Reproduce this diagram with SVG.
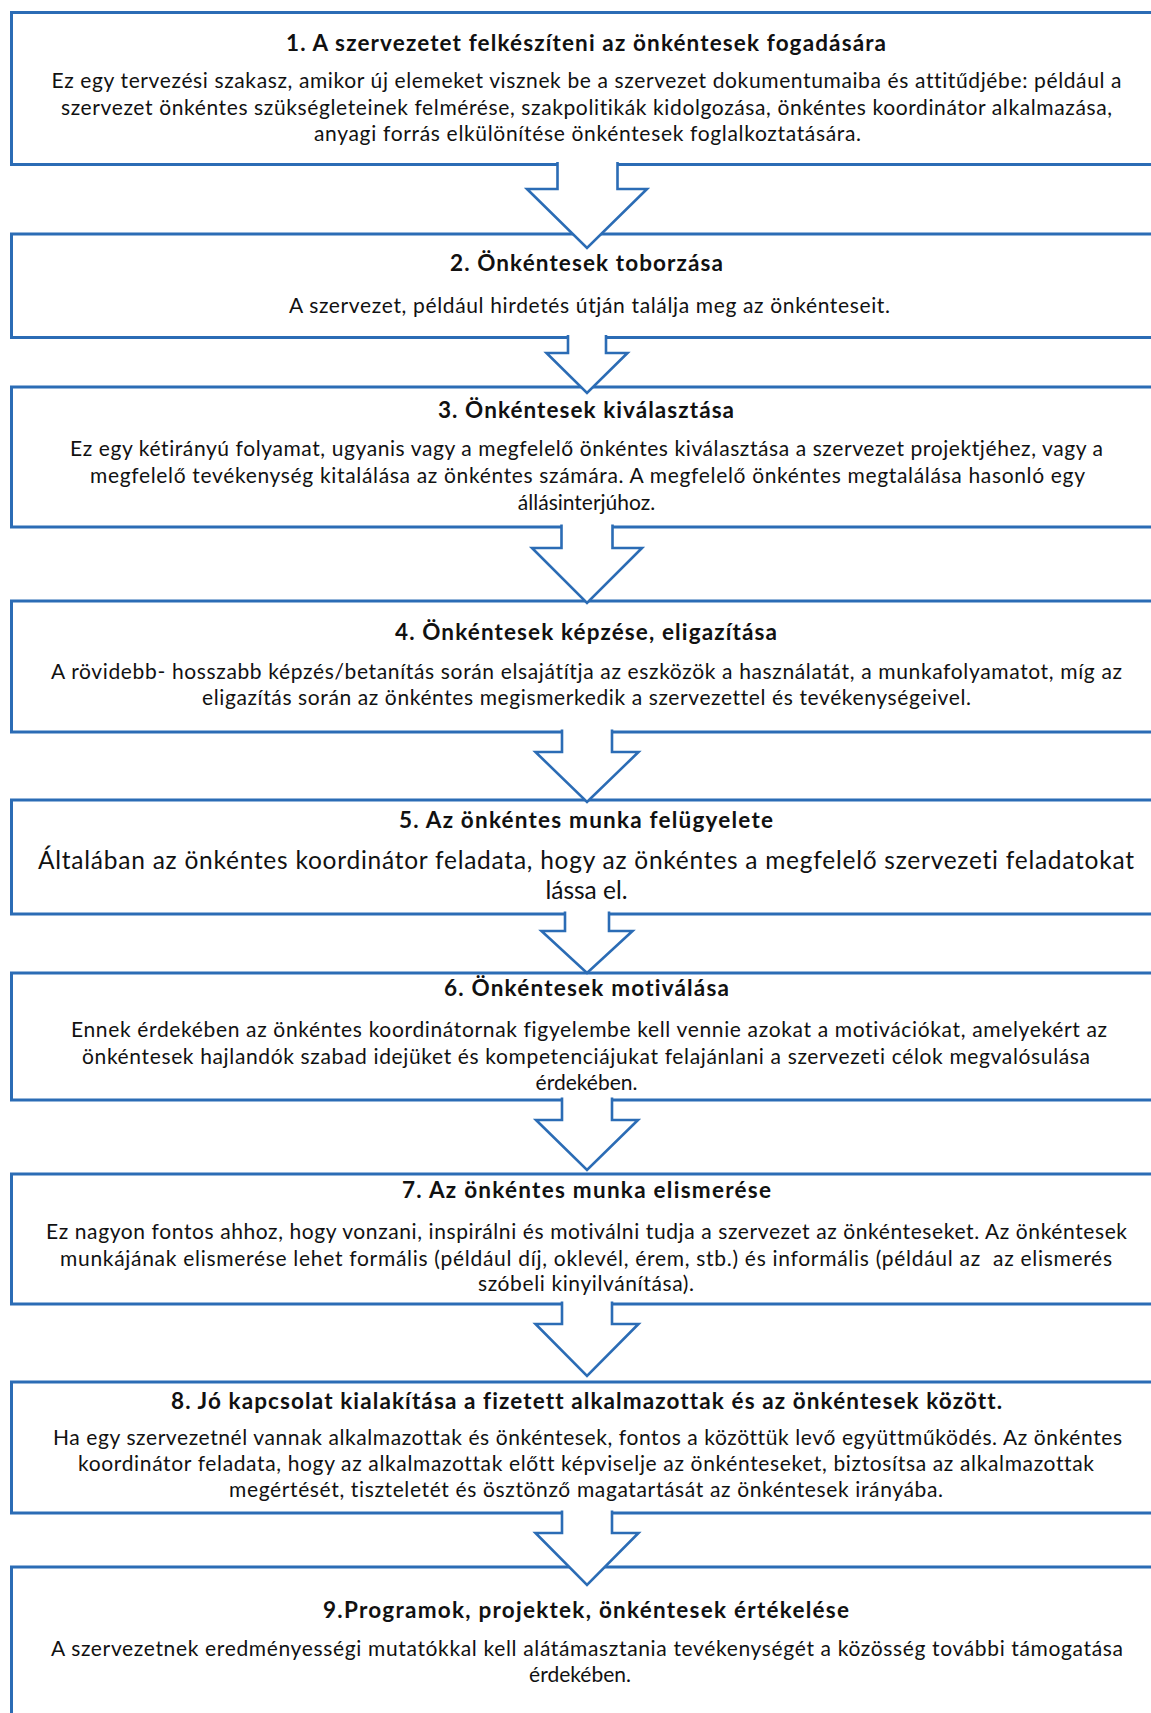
<svg xmlns="http://www.w3.org/2000/svg" width="1151" height="1713" viewBox="0 0 1151 1713">
  <style>
    .box { fill: #ffffff; stroke: #2b6cb5; stroke-width: 3; }
    .arrow { fill: #ffffff; stroke: #2b6cb5; stroke-width: 2.6; stroke-linejoin: miter; }
    text { font-family: Lato, "Liberation Sans", "DejaVu Sans", sans-serif; fill: #111111; text-anchor: middle; font-variant-ligatures: none; font-feature-settings: "liga" 0, "clig" 0, "dlig" 0; }
    .title { font-size: 22.5px; font-weight: 700; }
    .body { font-size: 21px; }
    .big { font-size: 24.5px; }
  </style>
  <rect width="1151" height="1713" fill="#ffffff"/>

  <!-- process steps -->
  <g id="step1">
    <rect class="box" x="11.5" y="12.5" width="1170" height="152"/>
    <text class="title" x="586" y="50.5" textLength="600">1. A szervezetet felkészíteni az önkéntesek fogadására</text>
    <text class="body" x="586.5" y="88" textLength="1070">Ez egy tervezési szakasz, amikor új elemeket visznek be a szervezet dokumentumaiba és attitűdjébe: például a</text>
    <text class="body" x="586.5" y="115" textLength="1051">szervezet önkéntes szükségleteinek felmérése, szakpolitikák kidolgozása, önkéntes koordinátor alkalmazása,</text>
    <text class="body" x="587.5" y="141" textLength="547">anyagi forrás elkülönítése önkéntesek foglalkoztatására.</text>
  </g>

  <g id="step2">
    <rect class="box" x="11.5" y="234" width="1170" height="103.5"/>
    <text class="title" x="586.5" y="271" textLength="273">2. Önkéntesek toborzása</text>
    <text class="body" x="589.5" y="312.5" textLength="601">A szervezet, például hirdetés útján találja meg az önkénteseit.</text>
  </g>

  <g id="step3">
    <rect class="box" x="11.5" y="387" width="1170" height="140"/>
    <text class="title" x="586" y="418" textLength="296">3. Önkéntesek kiválasztása</text>
    <text class="body" x="586.5" y="456" textLength="1033">Ez egy kétirányú folyamat, ugyanis vagy a megfelelő önkéntes kiválasztása a szervezet projektjéhez, vagy a</text>
    <text class="body" x="587.5" y="483" textLength="995">megfelelő tevékenység kitalálása az önkéntes számára. A megfelelő önkéntes megtalálása hasonló egy</text>
    <text class="body" x="586.5" y="510">állásinterjúhoz.</text>
  </g>

  <g id="step4">
    <rect class="box" x="11.5" y="601" width="1170" height="131"/>
    <text class="title" x="586" y="640" textLength="382">4. Önkéntesek képzése, eligazítása</text>
    <text class="body" x="586.5" y="679" textLength="1071">A rövidebb- hosszabb képzés/betanítás során elsajátítja az eszközök a használatát, a munkafolyamatot, míg az</text>
    <text class="body" x="586.5" y="705" textLength="769">eligazítás során az önkéntes megismerkedik a szervezettel és tevékenységeivel.</text>
  </g>

  <g id="step5">
    <rect class="box" x="11.5" y="800" width="1170" height="114"/>
    <text class="title" x="586" y="828" textLength="374">5. Az önkéntes munka felügyelete</text>
    <text class="big" x="586" y="869" textLength="1096">Általában az önkéntes koordinátor feladata, hogy az önkéntes a megfelelő szervezeti feladatokat</text>
    <text class="big" x="586.5" y="899">lássa el.</text>
  </g>

  <g id="step6">
    <rect class="box" x="11.5" y="973" width="1170" height="127"/>
    <text class="title" x="586.5" y="996" textLength="285">6. Önkéntesek motiválása</text>
    <text class="body" x="589" y="1037" textLength="1036">Ennek érdekében az önkéntes koordinátornak figyelembe kell vennie azokat a motivációkat, amelyekért az</text>
    <text class="body" x="586" y="1064" textLength="1008">önkéntesek hajlandók szabad idejüket és kompetenciájukat felajánlani a szervezeti célok megvalósulása</text>
    <text class="body" x="586.5" y="1090">érdekében.</text>
  </g>

  <g id="step7">
    <rect class="box" x="11.5" y="1174" width="1170" height="130"/>
    <text class="title" x="586.5" y="1198" textLength="369">7. Az önkéntes munka elismerése</text>
    <text class="body" x="586.5" y="1239" textLength="1081">Ez nagyon fontos ahhoz, hogy vonzani, inspirálni és motiválni tudja a szervezet az önkénteseket. Az önkéntesek</text>
    <text class="body" x="586" y="1266" textLength="1052">munkájának elismerése lehet formális (például díj, oklevél, érem, stb.) és informális (például az&#160; az elismerés</text>
    <text class="body" x="586" y="1291" textLength="216">szóbeli kinyilvánítása).</text>
  </g>

  <g id="step8">
    <rect class="box" x="11.5" y="1382" width="1170" height="131"/>
    <text class="title" x="586.5" y="1409" textLength="831">8. Jó kapcsolat kialakítása a fizetett alkalmazottak és az önkéntesek között.</text>
    <text class="body" x="587.5" y="1445" textLength="1069">Ha egy szervezetnél vannak alkalmazottak és önkéntesek, fontos a közöttük levő együttműködés. Az önkéntes</text>
    <text class="body" x="586" y="1471" textLength="1016">koordinátor feladata, hogy az alkalmazottak előtt képviselje az önkénteseket, biztosítsa az alkalmazottak</text>
    <text class="body" x="586" y="1497" textLength="714">megértését, tiszteletét és ösztönző magatartását az önkéntesek irányába.</text>
  </g>

  <g id="step9">
    <rect class="box" x="11.5" y="1567" width="1170" height="180"/>
    <text class="title" x="586" y="1618" textLength="526">9.Programok, projektek, önkéntesek értékelése</text>
    <text class="body" x="587" y="1656" textLength="1072">A szervezetnek eredményességi mutatókkal kell alátámasztania tevékenységét a közösség további támogatása</text>
    <text class="body" x="580" y="1682">érdekében.</text>
  </g>

  <!-- block arrows between steps; open at the top so the white fill hides the box edge -->
  <g id="connectors">
    <path class="arrow" d="M557.5,162 V189 H527 L587,248 L647,189 H617.5 V162"/>
    <path class="arrow" d="M568,335 V353 H546.5 L587,393 L627.5,353 H606 V335"/>
    <path class="arrow" d="M561.5,524.5 V548 H532 L587,603 L642,548 H612.5 V524.5"/>
    <path class="arrow" d="M562,729.5 V752 H535.5 L587,802 L638.5,752 H612 V729.5"/>
    <path class="arrow" d="M565,911.5 V931 H541.5 L587,973 L632.5,931 H609 V911.5"/>
    <path class="arrow" d="M562,1097.5 V1120 H536 L587,1170 L638,1120 H612 V1097.5"/>
    <path class="arrow" d="M562,1301.5 V1324 H535.5 L587,1376 L638.5,1324 H612 V1301.5"/>
    <path class="arrow" d="M562,1510.5 V1533 H535.5 L587,1585 L638.5,1533 H612 V1510.5"/>
  </g>
</svg>
